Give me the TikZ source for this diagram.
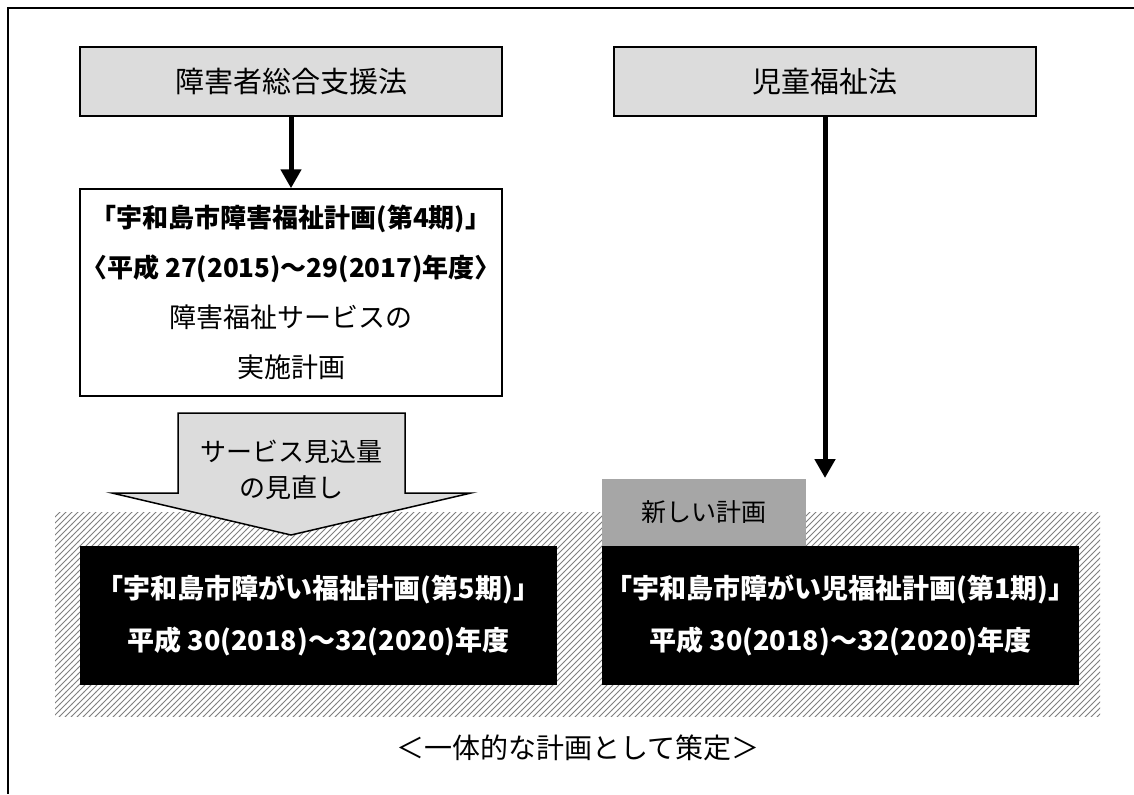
\documentclass[tikz,border=0pt]{standalone}
\usepackage{fontspec}
\setmainfont{Noto Sans CJK JP}
\usetikzlibrary{arrows.meta, patterns}
\definecolor{lawgray}{HTML}{DCDCDC}
\definecolor{taggray}{HTML}{A6A6A6}

\begin{document}
\begin{tikzpicture}[x=0.5pt, y=-0.5pt,
        law/.style = {draw=black, line width=0.75pt, fill=lawgray, inner sep=0pt,
            minimum width=211pt, minimum height=34.5pt, font=\fontsize{14.5}{16}\selectfont},
        plan/.style = {draw=black, line width=0.75pt, fill=white, inner sep=0pt, align=center,
            minimum width=211pt, minimum height=103.5pt, font=\fontsize{13.5}{25}\selectfont},
        newplan/.style = {fill=black, text=white, inner sep=0pt, align=center,
            minimum width=238.5pt, minimum height=69.5pt, font=\bfseries\fontsize{13.5}{26}\selectfont},
        tag/.style = {fill=taggray, inner sep=0pt, minimum width=102pt, minimum height=33.5pt,
            font=\fontsize{12.5}{14}\selectfont},
        flow/.style = {-{Triangle[width=10pt, length=9.5pt]}, line width=2.5pt}]
    \fill[white] (0,0) rectangle (1134,794);
    \useasboundingbox (0,0) rectangle (1134,794);
    \draw[line width=1pt] (1134,8) -- (8,8) -- (8,794);
    \node[law] (1) at (291,81.5) {障害者総合支援法};
    \node[law] (2) at (825,81.5) {児童福祉法};
    \node[plan] (3) at (291,292.5) {{\bfseries\fontsize{13}{25}\selectfont 「宇和島市障害福祉計画(第4期)」}\\
        {\bfseries\fontsize{13}{25}\selectfont 〈平成 27(2015)〜29(2017)年度〉}\\障害福祉サービスの\\実施計画};
    \fill[pattern=north east lines, pattern color=gray] (55,512) rectangle (1100,716);
    \draw[line width=0.75pt, fill=lawgray] (178,413) -- (405,413) -- (405,493) -- (471,493)
        -- (291,535) -- (112,493) -- (178,493) -- cycle;
    \node[align=center, font=\fontsize{13}{18}\selectfont] (4) at (291,470) {サービス見込量\\の見直し};
    \node[newplan] (5) at (318.5,615.5) {「宇和島市障がい福祉計画(第5期)」\\平成 30(2018)〜32(2020)年度};
    \node[newplan] (6) at (840.5,615.5) {「宇和島市障がい児福祉計画(第1期)」\\平成 30(2018)〜32(2020)年度};
    \node[tag] (7) at (704,512.5) {新しい計画};
    \coordinate (8) at (825,478);
    \node[font=\fontsize{14}{16}\selectfont] (9) at (578,748) {＜一体的な計画として策定＞};
    \draw[flow] (1) -- (3);
    \draw[flow] (2) -- (8);
\end{tikzpicture}
\end{document}
